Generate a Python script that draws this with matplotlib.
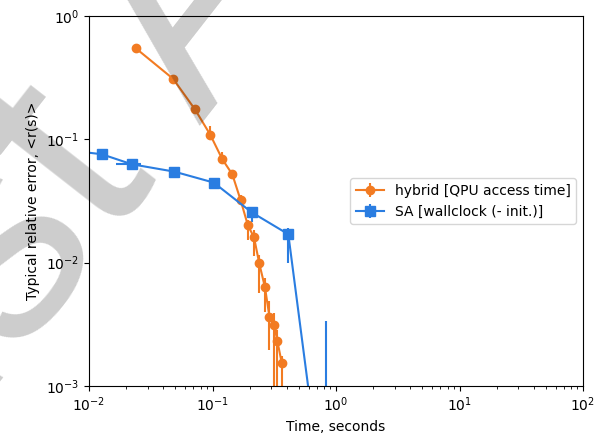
import numpy as np
import matplotlib.pyplot as plt
from matplotlib.ticker import NullLocator

# hybrid [QPU access time]
x_hyb = [0.0239, 0.0479, 0.0721, 0.0959, 0.120, 0.1446, 0.169, 0.193,
         0.217, 0.239, 0.266, 0.289, 0.316, 0.335, 0.363]
y_hyb = [0.548, 0.310, 0.175, 0.109, 0.069, 0.0521, 0.0321, 0.0202,
         0.0160, 0.00989, 0.00630, 0.00366, 0.00310, 0.00232, 0.00155]
ylo_hyb = [0.03, 0.015, 0.008, 0.004, 0.002, 0.002, 0.0015, 0.0050,
           0.0047, 0.0042, 0.0023, 0.0017, 0.00305, 0.00228, 0.00153]
yhi_hyb = [0.03, 0.015, 0.008, 0.019, 0.010, 0.002, 0.003, 0.0019,
           0.0025, 0.0017, 0.0012, 0.0012, 0.0008, 0.0005, 0.0002]
xerr_hyb = [0.0, 0.0, 0.0, 0.0, 0.0, 0.0, 0.0, 0.0,
            0.0, 0.0, 0.0, 0.0, 0.0, 0.0, 0.0]

# SA [wallclock (- init.)]
x_sa = [0.0065, 0.0127, 0.0222, 0.0491, 0.1023, 0.2075, 0.411, 0.825]
y_sa = [0.082, 0.0757, 0.0628, 0.0547, 0.0446, 0.0256, 0.0170, 0.00008]
ylo_sa = [0.002, 0.002, 0.002, 0.002, 0.002, 0.0041, 0.0071, 0.00007]
yhi_sa = [0.002, 0.002, 0.002, 0.002, 0.002, 0.001, 0.002, 0.0033]
xlo_sa = [0.0, 0.0008, 0.0057, 0.0, 0.0, 0.0, 0.0, 0.0]
xhi_sa = [0.0, 0.0008, 0.0040, 0.0, 0.0, 0.0, 0.0, 0.0]

c_hyb = '#f27b22'
c_sa = '#2a7de1'

fig = plt.figure(figsize=(5.95, 4.36), dpi=100)
ax = fig.add_axes([89/595, 50/436, 494/595, 370/436])

ax.errorbar(x_hyb, y_hyb, yerr=[ylo_hyb, yhi_hyb], xerr=xerr_hyb,
            color=c_hyb, marker='o', markersize=6, lw=1.5,
            label='hybrid [QPU access time]')
ax.errorbar(x_sa, y_sa, yerr=[ylo_sa, yhi_sa], xerr=[xlo_sa, xhi_sa],
            color=c_sa, marker='s', markersize=7, lw=1.5,
            label='SA [wallclock (- init.)]')

ax.set_xscale('log')
ax.set_yscale('log')
ax.set_xlim(1e-2, 1e2)
ax.set_ylim(1e-3, 1e0)
ax.yaxis.set_minor_locator(NullLocator())
ax.set_xlabel('Time, seconds')
ax.set_ylabel('Typical relative error, <r(s)>')
ax.legend(loc='center right')

# watermark
fig.text(0.56, 1.39, 'Just Accepted', rotation=52, fontsize=215,
         color='k', alpha=0.2, ha='center', va='center',
         rotation_mode='anchor', family='Liberation Sans', zorder=10)

fig.savefig('out.png')
